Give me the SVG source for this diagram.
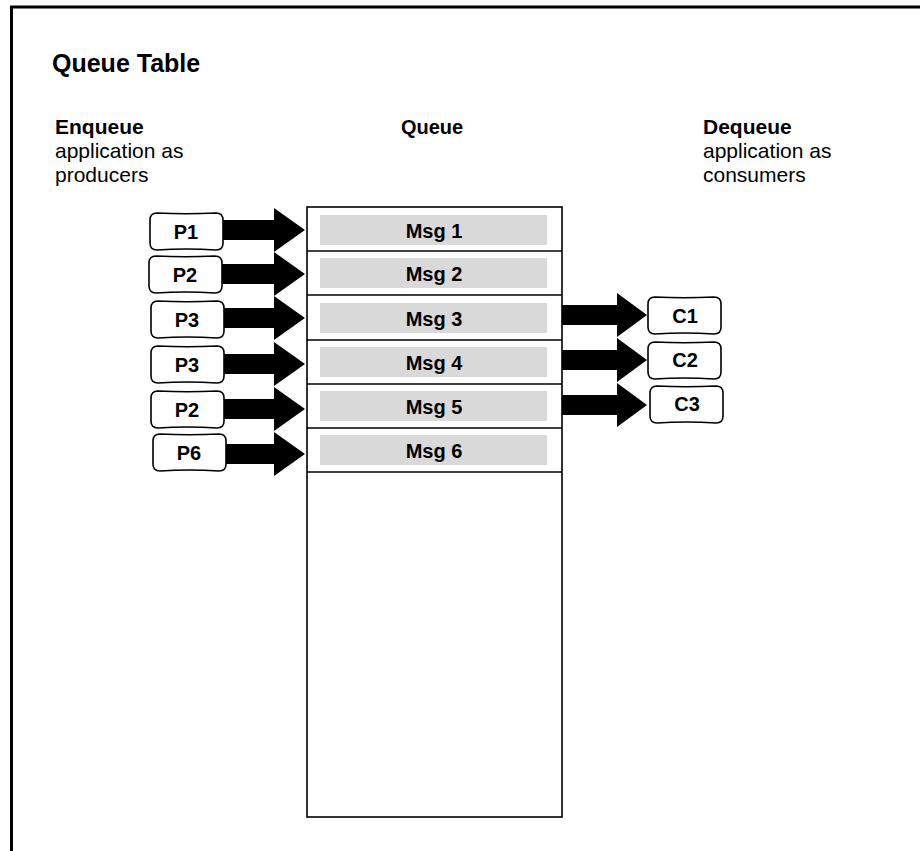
<svg xmlns="http://www.w3.org/2000/svg" width="920" height="851" viewBox="0 0 920 851">
<defs>
<style>
.t{font-family:"Liberation Sans",Arial,sans-serif;fill:#000}
.b{font-weight:bold}
.lbl{font-size:20px;font-weight:bold;text-anchor:middle}
.side{font-size:21px}
.box{fill:#fff;stroke:#000;stroke-width:1.6}
.row{fill:none;stroke:#000;stroke-width:1.6}
.bar{fill:#d9d9d9}
.arr{fill:#000}
</style>
<path id="pbox" d="M7,0 Q36,1.5 66,0 Q73,0 73,7 L73,30 Q73,37 66,37 Q36,35 7,37 Q0,37 0,30 L0,7 Q0,0 7,0 Z"/>
<path id="rarrow" d="M0,-10 L52,-10 L52,-22 L83,0 L52,22 L52,10 L0,10 Z"/>
</defs>
<rect width="920" height="851" fill="#fff"/>
<rect x="11.5" y="7" width="920" height="860" fill="none" stroke="#000" stroke-width="3"/>
<text class="t b" x="52" y="72" font-size="25">Queue Table</text>
<g id="enqueue-label" class="t side">
<text x="55" y="134" font-weight="bold">Enqueue</text>
<text x="55" y="158">application as</text>
<text x="55" y="182">producers</text>
</g>
<text id="queue-label" class="t lbl" x="432" y="134">Queue</text>
<g id="dequeue-label" class="t side">
<text x="703" y="134" font-weight="bold">Dequeue</text>
<text x="703" y="158">application as</text>
<text x="703" y="182">consumers</text>
</g>
<g id="queue">
<rect class="row" x="307" y="207" width="255" height="610"/>
<line class="row" x1="307" y1="251" x2="562" y2="251"/>
<line class="row" x1="307" y1="295" x2="562" y2="295"/>
<line class="row" x1="307" y1="340" x2="562" y2="340"/>
<line class="row" x1="307" y1="384" x2="562" y2="384"/>
<line class="row" x1="307" y1="428" x2="562" y2="428"/>
<line class="row" x1="307" y1="472" x2="562" y2="472"/>
</g>
<g id="msg1"><rect class="bar" x="320" y="215" width="227" height="30"/><text class="t lbl" x="434" y="238">Msg 1</text></g>
<g id="msg2"><rect class="bar" x="320" y="258" width="227" height="30"/><text class="t lbl" x="434" y="281">Msg 2</text></g>
<g id="msg3"><rect class="bar" x="320" y="303" width="227" height="30"/><text class="t lbl" x="434" y="326">Msg 3</text></g>
<g id="msg4"><rect class="bar" x="320" y="347" width="227" height="30"/><text class="t lbl" x="434" y="370">Msg 4</text></g>
<g id="msg5"><rect class="bar" x="320" y="391" width="227" height="30"/><text class="t lbl" x="434" y="414">Msg 5</text></g>
<g id="msg6"><rect class="bar" x="320" y="435" width="227" height="30"/><text class="t lbl" x="434" y="458">Msg 6</text></g>
<g id="connectors" class="arr">
<use href="#rarrow" x="222" y="230"/>
<use href="#rarrow" x="222" y="274"/>
<use href="#rarrow" x="222" y="318"/>
<use href="#rarrow" x="222" y="364"/>
<use href="#rarrow" x="222" y="409"/>
<use href="#rarrow" x="222" y="454"/>
<path d="M562,305 L617,305 L617,293 L647,315 L617,337 L617,325 L562,325 Z"/>
<path d="M562,350 L617,350 L617,338 L647,360 L617,382 L617,370 L562,370 Z"/>
<path d="M562,395 L617,395 L617,383 L647,405 L617,427 L617,415 L562,415 Z"/>
</g>
<g id="p1"><use href="#pbox" class="box" x="150" y="213"/><text class="t lbl" x="186" y="239">P1</text></g>
<g id="p2"><use href="#pbox" class="box" x="149" y="256"/><text class="t lbl" x="185" y="282">P2</text></g>
<g id="p3a"><use href="#pbox" class="box" x="151" y="301"/><text class="t lbl" x="187" y="327">P3</text></g>
<g id="p3b"><use href="#pbox" class="box" x="151" y="346"/><text class="t lbl" x="187" y="372">P3</text></g>
<g id="p2b"><use href="#pbox" class="box" x="151" y="391"/><text class="t lbl" x="187" y="417">P2</text></g>
<g id="p6"><use href="#pbox" class="box" x="153" y="434"/><text class="t lbl" x="189" y="460">P6</text></g>
<g id="c1"><use href="#pbox" class="box" x="648" y="297"/><text class="t lbl" x="685" y="323">C1</text></g>
<g id="c2"><use href="#pbox" class="box" x="648" y="342"/><text class="t lbl" x="685" y="367">C2</text></g>
<g id="c3"><use href="#pbox" class="box" x="650" y="386"/><text class="t lbl" x="687" y="411">C3</text></g>
</svg>
